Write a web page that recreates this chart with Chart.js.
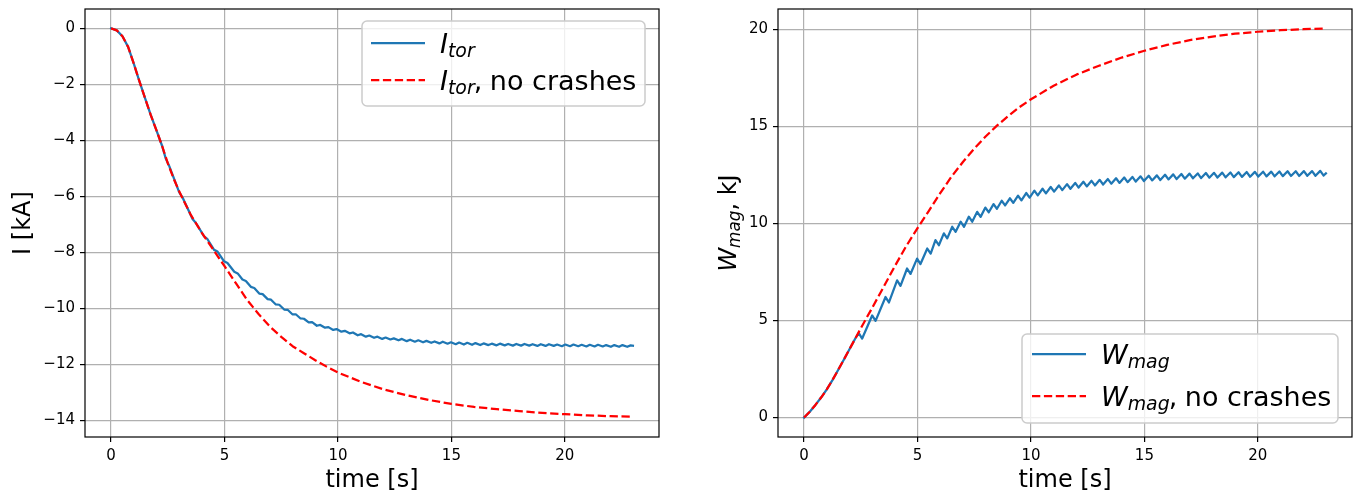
<!DOCTYPE html>
<html>
<head>
<meta charset="utf-8">
<script src="https://cdn.jsdelivr.net/npm/chart.js@4.4.1/dist/chart.umd.min.js"></script>
<style>
  html, body { margin: 0; padding: 0; background: #ffffff; }
  #wrap { position: relative; width: 1359px; height: 497px; }
  #wrap canvas { position: absolute; top: 0; }
  #cI { left: 0; }
  #cW { left: 690px; }
</style>
</head>
<body>
<div id="wrap">
  <canvas id="cI" width="690" height="497"></canvas>
  <canvas id="cW" width="669" height="497"></canvas>
</div>
<script>
// ---- data -------------------------------------------------------------
// reference run without sawtooth crashes
const refTime = [0, 0.25, 0.5, 0.75, 1, 1.25, 1.5, 1.75, 2, 2.25,
  2.5, 2.75, 3, 3.5, 4, 4.5, 5, 5.5, 6, 6.5,
  7, 7.5, 8, 8.5, 9, 9.5, 10, 11, 12, 13,
  14, 15, 16, 17, 18, 19, 20, 21, 22, 23];
const itorNoCrash = [0, -0.07, -0.28, -0.66, -1.26, -1.89, -2.5, -3.1, -3.64, -4.2,
  -4.82, -5.35, -5.82, -6.64, -7.3, -7.9, -8.49, -9.1, -9.7, -10.2,
  -10.65, -11.02, -11.35, -11.6, -11.85, -12.08, -12.29, -12.62, -12.89, -13.1,
  -13.27, -13.41, -13.52, -13.6, -13.67, -13.73, -13.78, -13.82, -13.85, -13.87];
const wmagNoCrash = [0, 0.3, 0.65, 1.03, 1.45, 1.93, 2.45, 2.98, 3.52, 4.06,
  4.6, 5.13, 5.65, 6.72, 7.8, 8.83, 9.76, 10.65, 11.56, 12.42,
  13.17, 13.86, 14.48, 15.04, 15.54, 16.0, 16.4, 17.1, 17.67, 18.13,
  18.55, 18.9, 19.2, 19.45, 19.63, 19.78, 19.88, 19.96, 20.01, 20.05];

// run with crashes: ramp before the first crash
const rampTime = [0, 0.25, 0.5, 0.75, 1, 1.25, 1.5, 1.75, 2, 2.25];
const itorRamp = [0, -0.07, -0.28, -0.66, -1.26, -1.89, -2.5, -3.1, -3.64, -4.2];
const wmagRamp = [0, 0.3, 0.65, 1.03, 1.45, 1.93, 2.45, 2.98, 3.52, 4.06];

// crash onset / crash end times [s]
const crashStart = [2.41, 3.00, 3.59, 4.10, 4.54, 4.98, 5.43, 5.79, 6.16, 6.53,
  6.90, 7.26, 7.63, 7.99, 8.35, 8.71, 9.07, 9.43, 9.79, 10.15,
  10.51, 10.87, 11.23, 11.59, 11.95, 12.31, 12.67, 13.03, 13.39, 13.75,
  14.11, 14.47, 14.83, 15.19, 15.55, 15.91, 16.27, 16.63, 16.99, 17.35,
  17.71, 18.07, 18.43, 18.79, 19.15, 19.51, 19.87, 20.23, 20.59, 20.95,
  21.31, 21.67, 22.03, 22.39, 22.75];
const crashEnd = [2.56, 3.15, 3.74, 4.25, 4.69, 5.13, 5.58, 5.94, 6.31, 6.68,
  7.05, 7.41, 7.78, 8.14, 8.50, 8.86, 9.22, 9.58, 9.94, 10.30,
  10.66, 11.02, 11.38, 11.74, 12.10, 12.46, 12.82, 13.18, 13.54, 13.90,
  14.26, 14.62, 14.98, 15.34, 15.70, 16.06, 16.42, 16.78, 17.14, 17.50,
  17.86, 18.22, 18.58, 18.94, 19.30, 19.66, 20.02, 20.38, 20.74, 21.10,
  21.46, 21.82, 22.18, 22.54, 22.90];

const wmagBefore = [4.35, 5.26, 6.21, 7.07, 7.68, 8.19, 8.71, 9.14, 9.49, 9.83,
  10.09, 10.35, 10.60, 10.82, 11.00, 11.17, 11.30, 11.43, 11.57, 11.69,
  11.79, 11.88, 11.96, 12.03, 12.09, 12.15, 12.20, 12.25, 12.29, 12.33,
  12.37, 12.40, 12.43, 12.46, 12.48, 12.51, 12.53, 12.55, 12.57, 12.58,
  12.60, 12.61, 12.62, 12.63, 12.64, 12.65, 12.66, 12.67, 12.67, 12.68,
  12.69, 12.69, 12.70, 12.70, 12.71];
const wmagAfter = [4.07, 4.98, 5.93, 6.79, 7.40, 7.91, 8.45, 8.88, 9.23, 9.57,
  9.83, 10.09, 10.34, 10.58, 10.76, 10.93, 11.06, 11.19, 11.33, 11.45,
  11.55, 11.64, 11.72, 11.79, 11.85, 11.91, 11.96, 12.01, 12.05, 12.09,
  12.13, 12.16, 12.19, 12.22, 12.24, 12.27, 12.29, 12.31, 12.33, 12.34,
  12.36, 12.37, 12.38, 12.39, 12.40, 12.41, 12.42, 12.43, 12.43, 12.44,
  12.45, 12.45, 12.46, 12.46, 12.47];

const itorBefore = [-4.65, -5.85, -6.81, -7.43, -7.91, -8.32, -8.69, -8.97, -9.23, -9.47,
  -9.67, -9.86, -10.04, -10.21, -10.36, -10.50, -10.62, -10.69, -10.77, -10.83,
  -10.89, -10.96, -11.01, -11.05, -11.09, -11.11, -11.14, -11.17, -11.19, -11.21,
  -11.23, -11.25, -11.26, -11.28, -11.29, -11.30, -11.31, -11.31, -11.32, -11.32,
  -11.33, -11.33, -11.33, -11.34, -11.34, -11.34, -11.35, -11.35, -11.35, -11.36,
  -11.36, -11.36, -11.37, -11.37, -11.37];
const itorAfter = [-4.91, -6.04, -6.95, -7.53, -7.97, -8.38, -8.75, -9.02, -9.27, -9.49,
  -9.69, -9.87, -10.05, -10.21, -10.37, -10.49, -10.59, -10.67, -10.74, -10.80,
  -10.86, -10.92, -10.97, -11.01, -11.04, -11.07, -11.09, -11.12, -11.14, -11.16,
  -11.18, -11.19, -11.21, -11.22, -11.23, -11.24, -11.25, -11.26, -11.26, -11.27,
  -11.27, -11.27, -11.28, -11.28, -11.28, -11.29, -11.29, -11.29, -11.30, -11.30,
  -11.30, -11.31, -11.31, -11.31, -11.32];

const endTime = 23.0;
const itorEnd = -11.33;
const wmagEnd = 12.58;

// axis ticks and ranges
const timeTicks = [0, 5, 10, 15, 20];
const itorTicks = [0, -2, -4, -6, -8, -10, -12, -14];
const wmagTicks = [0, 5, 10, 15, 20];
const timeRange = [-1.15, 24.15];
const itorRange = [-14.5935, 0.6935];
const wmagRange = [-1.0025, 21.0525];

// ---- helpers ----------------------------------------------------------
const FAMILY = '"DejaVu Sans", "Liberation Sans", sans-serif';
const BLUE = '#1f77b4';
const RED = '#ff0000';
const DASH = [8.3, 3.6];
const LW = 2.25;

function pairs(xs, ys) { return xs.map((x, i) => ({ x: x, y: ys[i] })); }

function crashSeries(ramp, before, after, last) {
  const pts = pairs(rampTime, ramp);
  crashStart.forEach((t, i) => {
    pts.push({ x: t, y: before[i] });
    pts.push({ x: crashEnd[i], y: after[i] });
  });
  pts.push({ x: endTime, y: last });
  return pts;
}

const tickFmt = v => (v < 0 ? '\u2212' : '') + Math.abs(v);

function axis(range, ticks, fitSize, horizontal, title) {
  const o = {
    type: 'linear',
    min: range[0],
    max: range[1],
    afterBuildTicks: s => { s.ticks = ticks.map(v => ({ value: v })); },
    afterFit: s => {
      if (horizontal) { s.height = fitSize; s.paddingLeft = 0; s.paddingRight = 0; }
      else { s.width = fitSize; s.paddingTop = 0; s.paddingBottom = 0; }
    },
    grid: { color: '#b0b0b0', lineWidth: 1.2, tickColor: '#000', tickWidth: 1.2, tickLength: 5 },
    border: { display: false },
    ticks: { color: '#000', font: { family: FAMILY, size: 15 }, padding: 5,
             maxRotation: 0, autoSkip: false, callback: tickFmt },
    title: { display: false }
  };
  if (title) {
    o.title = { display: true, text: title.text, color: '#000',
                font: { family: FAMILY, size: 24 }, padding: title.padding };
  }
  return o;
}

// full box around the plot area (spines)
const frame = {
  id: 'frame',
  afterDatasetsDraw(chart) {
    const { ctx, chartArea: a } = chart;
    ctx.save();
    ctx.strokeStyle = '#000';
    ctx.lineWidth = 1.2;
    ctx.strokeRect(a.left, a.top, a.right - a.left, a.bottom - a.top);
    ctx.restore();
  }
};

// text made of runs: normal, italic, italic subscript; dx tightens spacing
function runFont(p, size) {
  const s = p.sub ? size * 0.7 : size;
  return (p.it ? 'italic ' : '') + s + 'px ' + FAMILY;
}
function measureRuns(ctx, runs, size) {
  let w = 0;
  runs.forEach(p => { ctx.font = runFont(p, size); w += (p.dx || 0) + ctx.measureText(p.t).width; });
  return w;
}
function drawRuns(ctx, runs, x, y, size, subShift) {
  ctx.textBaseline = 'alphabetic';
  ctx.textAlign = 'left';
  runs.forEach(p => {
    ctx.font = runFont(p, size);
    x += p.dx || 0;
    ctx.fillText(p.t, x, y + (p.sub ? subShift : 0));
    x += ctx.measureText(p.t).width;
  });
}

// legend with math-style labels
const mathLegend = {
  id: 'mathLegend',
  afterDraw(chart, args, o) {
    const { ctx, chartArea: a } = chart;
    ctx.save();
    const w = o.width;
    const x = a.right - o.inset - w;
    const y = o.corner === 'top' ? a.top + o.insetTop : a.bottom - o.inset - o.height;
    const r = 5;
    ctx.beginPath();
    ctx.moveTo(x + r, y);
    ctx.arcTo(x + w, y, x + w, y + o.height, r);
    ctx.arcTo(x + w, y + o.height, x, y + o.height, r);
    ctx.arcTo(x, y + o.height, x, y, r);
    ctx.arcTo(x, y, x + w, y, r);
    ctx.closePath();
    ctx.fillStyle = 'rgba(255,255,255,0.8)';
    ctx.fill();
    ctx.strokeStyle = '#cccccc';
    ctx.lineWidth = 1.5;
    ctx.stroke();
    o.items.forEach((it, i) => {
      const ry = y + o.rows[i];
      ctx.beginPath();
      ctx.setLineDash(it.dash || []);
      ctx.strokeStyle = it.color;
      ctx.lineWidth = LW;
      ctx.lineCap = 'butt';
      ctx.moveTo(x + o.padLeft, ry);
      ctx.lineTo(x + o.padLeft + o.handle, ry);
      ctx.stroke();
      ctx.setLineDash([]);
      ctx.fillStyle = '#000';
      drawRuns(ctx, it.runs, x + o.padLeft + o.handle + o.gap, ry + o.baseline, o.size, o.subShift);
    });
    ctx.restore();
  }
};

// rotated y-axis title with a subscript
const mathYTitle = {
  id: 'mathYTitle',
  afterDraw(chart, args, o) {
    if (!o || !o.runs) return;
    const { ctx, chartArea: a } = chart;
    ctx.save();
    const w = measureRuns(ctx, o.runs, o.size);
    ctx.translate(o.x, (a.top + a.bottom) / 2);
    ctx.rotate(-Math.PI / 2);
    ctx.fillStyle = '#000';
    drawRuns(ctx, o.runs, -w / 2, o.baseline, o.size, o.subShift);
    ctx.restore();
  }
};

const lineStyle = (color, dash) => ({
  borderColor: color, borderWidth: LW, borderDash: dash || [],
  pointRadius: 0, tension: 0, fill: false, borderJoinStyle: 'round',
  borderCapStyle: dash ? 'butt' : 'square'
});

// ---- current ----------------------------------------------------------
new Chart(document.getElementById('cI'), {
  type: 'line',
  data: {
    datasets: [
      Object.assign({ label: 'Itor', data: crashSeries(itorRamp, itorBefore, itorAfter, itorEnd), order: 1 }, lineStyle(BLUE)),
      Object.assign({ label: 'Itor, no crashes', data: pairs(refTime, itorNoCrash), order: 0 }, lineStyle(RED, DASH))
    ]
  },
  plugins: [frame, mathLegend],
  options: {
    responsive: false, animation: false, devicePixelRatio: 1,
    layout: { padding: { left: 0, right: 31, top: 9, bottom: 0 } },
    parsing: false, normalized: true,
    plugins: {
      legend: { display: false }, tooltip: { enabled: false },
      mathLegend: {
        size: 27, corner: 'top', inset: 14, insetTop: 12, height: 85, width: 283,
        padLeft: 9, handle: 54, gap: 15,
        rows: [22, 59], baseline: 9.5, subShift: 4,
        items: [
          { color: BLUE, runs: [{ t: 'I', it: true }, { t: 'tor', it: true, sub: true }] },
          { color: RED, dash: DASH, runs: [{ t: 'I', it: true }, { t: 'tor', it: true, sub: true },
            { t: ',', dx: -1 }, { t: ' no crashes', dx: -1 }] }
        ]
      }
    },
    scales: {
      x: axis(timeRange, timeTicks, 60, true, { text: 'time [s]', padding: { top: 0, bottom: 2 } }),
      y: axis(itorRange, itorTicks, 85, false, { text: 'I [kA]', padding: { top: 9, bottom: 0 } })
    }
  }
});

// ---- magnetic energy --------------------------------------------------
new Chart(document.getElementById('cW'), {
  type: 'line',
  data: {
    datasets: [
      Object.assign({ label: 'Wmag', data: crashSeries(wmagRamp, wmagBefore, wmagAfter, wmagEnd), order: 1 }, lineStyle(BLUE)),
      Object.assign({ label: 'Wmag, no crashes', data: pairs(refTime, wmagNoCrash), order: 0 }, lineStyle(RED, DASH))
    ]
  },
  plugins: [frame, mathYTitle, mathLegend],
  options: {
    responsive: false, animation: false, devicePixelRatio: 1,
    layout: { padding: { left: 0, right: 7, top: 9, bottom: 0 } },
    parsing: false, normalized: true,
    plugins: {
      legend: { display: false }, tooltip: { enabled: false },
      mathYTitle: {
        x: 37, size: 24, baseline: 8.5, subShift: 4,
        runs: [{ t: 'W', it: true }, { t: 'mag', it: true, sub: true }, { t: ', kJ' }]
      },
      mathLegend: {
        size: 27, corner: 'bottom', inset: 14, height: 89, width: 316,
        padLeft: 10, handle: 54, gap: 15,
        rows: [20, 62], baseline: 9.5, subShift: 4,
        items: [
          { color: BLUE, runs: [{ t: 'W', it: true }, { t: 'mag', it: true, sub: true }] },
          { color: RED, dash: DASH, runs: [{ t: 'W', it: true }, { t: 'mag', it: true, sub: true },
            { t: ',', dx: -1 }, { t: ' no crashes', dx: -1 }] }
        ]
      }
    },
    scales: {
      x: axis(timeRange, timeTicks, 60, true, { text: 'time [s]', padding: { top: 0, bottom: 2 } }),
      y: axis(wmagRange, wmagTicks, 88, false, null)
    }
  }
});
</script>
</body>
</html>
